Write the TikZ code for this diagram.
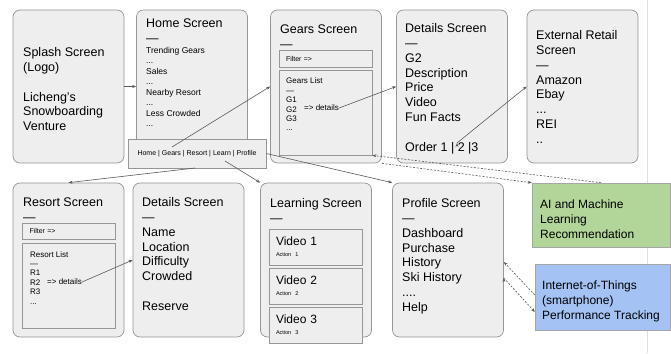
\documentclass[tikz,border=0pt]{standalone}
\usepackage{fontspec}
\setmainfont{Liberation Sans}
\usepackage{tikz}
\usetikzlibrary{positioning,shapes.misc,arrows.meta}

\definecolor{screengray}{RGB}{238,238,238}
\definecolor{framegray}{RGB}{150,150,150}
\definecolor{linkgray}{RGB}{90,90,90}
\definecolor{aigreen}{RGB}{178,213,154}
\definecolor{iotblue}{RGB}{164,194,244}

\begin{document}
\begin{tikzpicture}[x=1pt,y=-1pt,>={Stealth[length=4pt,width=3pt]},
    screen/.style={draw=framegray,fill=screengray,rounded corners=7pt,line width=0.7pt,
      minimum width=111pt,minimum height=153pt,inner sep=0pt},
    panel/.style={draw=framegray,fill=screengray,line width=0.7pt,inner xsep=7pt,inner ysep=0pt,
      text width=79pt,align=left},
    note/.style={chamfered rectangle,chamfered rectangle corners=north east,
      chamfered rectangle xsep=9pt,draw=gray!70,line width=0.5pt,inner sep=0pt},
    screentext/.style={font=\fontsize{12.5}{14.8}\selectfont,align=left,inner sep=0pt,anchor=north west},
    itemtext/.style={font=\fontsize{8.5}{10.5}\selectfont,align=left,inner sep=0pt,anchor=north west},
    listtext/.style={font=\fontsize{8}{9.4}\selectfont,align=left,inner sep=0pt,anchor=north west},
    navtext/.style={font=\fontsize{7}{8}\selectfont},
    notetext/.style={font=\fontsize{12}{15}\selectfont,align=left,inner sep=0pt,anchor=west},
    link/.style={->,draw=linkgray,line width=0.6pt},
    datalink/.style={->,draw=linkgray,line width=0.6pt,dash pattern=on 2pt off 1.5pt}]
  \fill[white] (0,0) rectangle (671,353);
  \useasboundingbox (0,0) rectangle (671,353);
  \draw[gray!25,line width=0.8pt] (647,0) -- (647,353);

  %% top row
  \node[screen] (splash) at (68.5,86.5) {};
  \node[screen] (home) at (192,86.5) {};
  \node[screen] (gears) at (326,86.5) {};
  \node[screen] (details) at (452,86.5) {};
  \node[screen] (retail) at (582.5,86.5) {};
  \node[panel,navtext,minimum height=17pt] (gearsfilter) at (325.5,58.5) {Filter =>};
  \node[panel,minimum height=85pt] (gearslist) at (325.5,112.5) {};
  \node[draw=framegray,fill=screengray,line width=0.7pt,navtext,
        minimum width=138pt,minimum height=29pt,inner sep=0pt] (nav) at (197,153.5)
        {Home | Gears | Resort | Learn | Profile};

  %% bottom row
  \node[screen,minimum height=154pt] (resort) at (68.5,260) {};
  \node[screen,minimum height=154pt] (placedetails) at (188.5,260) {};
  \node[screen,minimum height=154pt] (learning) at (316,260) {};
  \node[screen,minimum height=154pt] (profile) at (448,260) {};
  \node[panel,navtext,minimum height=16pt] (resortfilter) at (69,231) {Filter =>};
  \node[panel,minimum height=85pt] (resortlist) at (69,285.5) {};
  \node[panel,font=\fontsize{12}{14}\selectfont,minimum height=36pt] (video1) at (315.5,247)
        {Video 1\\[-3pt]{\fontsize{5.5}{6.5}\selectfont Action 1}};
  \node[panel,font=\fontsize{12}{14}\selectfont,minimum height=36pt] (video2) at (315.5,286)
        {Video 2\\[-3pt]{\fontsize{5.5}{6.5}\selectfont Action 2}};
  \node[panel,font=\fontsize{12}{14}\selectfont,minimum height=36pt] (video3) at (315.5,325)
        {Video 3\\[-3pt]{\fontsize{5.5}{6.5}\selectfont Action 3}};

  %% notes
  \node[note,fill=aigreen,minimum width=138pt,minimum height=64pt] (ai) at (601,215) {};
  \node[note,fill=iotblue,minimum width=135pt,minimum height=66pt] (iot) at (602.5,297) {};
  \node[notetext] (aitext) at (540,219) {AI and Machine\\Learning\\Recommendation};
  \node[notetext] (iottext) at (542,301) {Internet-of-Things\\(smartphone)\\Performance Tracking};

  %% screen texts
  \node[screentext] (splashtext) at (23,47.5)
        {Splash Screen\\(Logo)\\[14.8pt]Licheng's\\Snowboarding\\Venture};
  \node[screentext] (hometitle) at (146,18.5) {Home Screen\\—};
  \node[itemtext] (homeitems) at (146,47)
        {Trending Gears\\...\\Sales\\...\\Nearby Resort\\...\\Less Crowded\\...};
  \node[screentext] (gearstitle) at (280,24.5) {Gears Screen\\—};
  \node[listtext] (gearsitems) at (286,78) {Gears List\\—\\G1\\G2\\G3\\...};
  \node[listtext,anchor=west] (gearsdet) at (304,108) {=> details};
  \node[screentext] (detailstext) at (405,23.5)
        {Details Screen\\—\\G2\\Description\\Price\\Video\\Fun Facts\\[14.8pt]Order 1 | 2 |3};
  \node[screentext] (retailtext) at (536,30.5)
        {External Retail\\Screen\\—\\Amazon\\Ebay\\...\\REI\\..};
  \node[screentext] (resorttitle) at (23,197.5) {Resort Screen\\—};
  \node[listtext] (resortitems) at (30,251) {Resort List\\—\\R1\\R2\\R3\\...};
  \node[listtext,anchor=west] (resortdet) at (47,282) {=> details};
  \node[screentext] (placetext) at (142,197.5)
        {Details Screen\\—\\Name\\Location\\Difficulty\\Crowded\\[14.8pt]Reserve};
  \node[screentext] (learningtitle) at (270,198.5) {Learning Screen\\—};
  \node[screentext] (profiletext) at (402,198.5)
        {Profile Screen\\—\\Dashboard\\Purchase\\History\\Ski History\\....\\Help};

  %% links
  \coordinate (navgears) at (172,147);
  \coordinate (navresort) at (195,168);
  \coordinate (navlearn) at (225,161);
  \coordinate (orderlink) at (457,143);
  \draw[link] (splash.east) -- (splash.east -| home.west);
  \path[link] (navgears) edge (gears.west)
              (navresort) edge (resort.north)
              (navlearn) edge (learning.north west)
              (nav.east) edge (profile.north west)
              (gearsdet.east) edge (details.west)
              (resortdet.east) edge (placedetails.west)
              (orderlink) edge (retail.west);
  \path[datalink] (ai.north) edge (gearslist.south east)
                  (gears.south east) edge (ai.north west)
                  ([yshift=2pt]iot.west) edge ([yshift=-2pt]profile.east)
                  ([yshift=-18pt]profile.east) edge ([yshift=-15pt]iot.west);
\end{tikzpicture}
\end{document}
